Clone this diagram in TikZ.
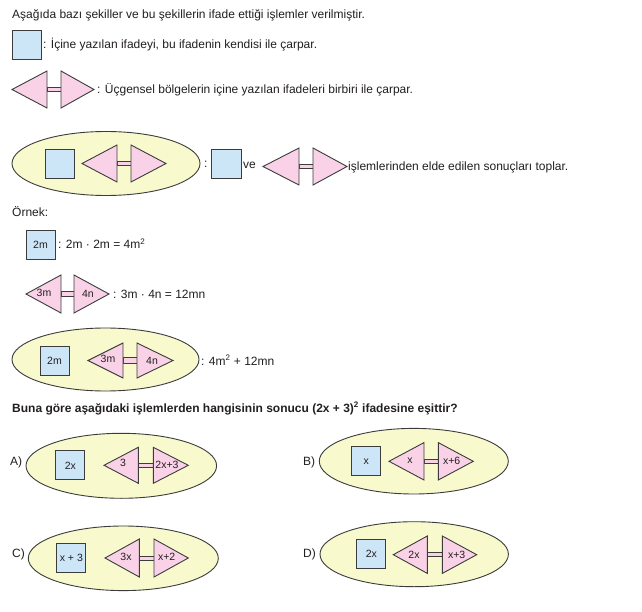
\documentclass[tikz,border=0pt]{standalone}
\usepackage{fontspec}
\setmainfont{Liberation Sans}
\usetikzlibrary{shapes.geometric}
\definecolor{sqblue}{HTML}{CCE6F8}
\definecolor{trpink}{HTML}{F9D2E7}
\definecolor{elyel}{HTML}{F8F9CC}
\definecolor{edgec}{HTML}{3C3C3C}
\definecolor{txt}{HTML}{231F20}
% #1 left tip x, #2 left vertical x, #3 right vertical x, #4 right tip x,
% #5 centre y, #6 half height, #7 half height of the bar
\newcommand{\hshape}[7]{%
  \filldraw[tri] (#2,#5-#7) rectangle (#3,#5+#7);
  \filldraw[tri] (#1,#5) -- (#2,#5-#6) -- (#2,#5+#6) -- cycle;
  \filldraw[tri] (#4,#5) -- (#3,#5-#6) -- (#3,#5+#6) -- cycle;
}
\begin{document}
\begin{tikzpicture}[x=1pt,y=-1pt,
  every node/.style={inner sep=0pt, text=txt},
  txtnode/.style={anchor=base west, font=\fontsize{12}{14}\selectfont},
  lbl/.style={font=\fontsize{10.5}{12}\selectfont},
  sqbox/.style={draw=edgec, fill=sqblue, line width=0.9pt, minimum width=29pt, minimum height=29pt, font=\fontsize{10.5}{12}\selectfont},
  ell/.style={ellipse, draw=edgec, fill=elyel, line width=0.9pt},
  tri/.style={draw=edgec, fill=trpink, line width=0.9pt, line join=miter},
]
\fill[white] (0,0) rectangle (642,612);
\useasboundingbox (0,0) rectangle (642,612);

% ---- legend ----
\node[txtnode] (intro) at (12,19) {Aşağıda bazı şekiller ve bu şekillerin ifade ettiği işlemler verilmiştir.};
\node[sqbox] (legSq) at (26.5,44.5) {};
\node[txtnode] (legSqT) at (43,49) {: İçine yazılan ifadeyi, bu ifadenin kendisi ile çarpar.};
\hshape{12}{47}{61}{94}{89.5}{18.5}{2.4}
\node[txtnode] (legHT) at (97,94) {: Üçgensel bölgelerin içine yazılan ifadeleri birbiri ile çarpar.};

\node[ell, minimum width=188pt, minimum height=64pt] (eTop) at (106,163.5) {};
\node[sqbox] (eTopSq) at (59.5,163.5) {};
\hshape{82}{117}{131}{166}{163.5}{18.5}{2.3}
\node[txtnode] (colon) at (204,168) {:};
\node[sqbox, minimum width=30pt] (sq2) at (226,163.5) {};
\node[txtnode] (ve) at (243,168.5) {ve};
\hshape{263}{299}{313}{347}{166.5}{18.5}{2}
\node[txtnode] (topl) at (348,170.5) {işlemlerinden elde edilen sonuçları toplar.};

% ---- example ----
\node[txtnode] (ornek) at (12,217) {Örnek:};
\node[sqbox] (exSq) at (40.5,244.5) {2m};
\node[txtnode] (exSqT) at (58,249) {: 2m · 2m = 4m\textsuperscript{2}};
\hshape{26}{61}{74}{109}{294}{19}{2.5}
\node[lbl] (ex3m) at (44,292.5) {3m};
\node[lbl] (ex4n) at (88,294) {4n};
\node[txtnode] (exHT) at (113,298) {: 3m · 4n = 12mn};

\node[ell, minimum width=187pt, minimum height=63pt] (eEx) at (105.5,359.5) {};
\node[sqbox] (eExSq) at (54.5,360.5) {2m};
\hshape{88}{123}{137}{173}{360.5}{17.5}{3}
\node[lbl] (eEx3m) at (108,359) {3m};
\node[lbl] (eEx4n) at (152,361) {4n};
\node[txtnode] (eExT) at (201,365) {: 4m\textsuperscript{2} + 12mn};

% ---- question ----
\node[txtnode, font=\bfseries\fontsize{12}{14}\selectfont] (quest) at (12,412) {Buna göre aşağıdaki işlemlerden hangisinin sonucu (2x + 3)\textsuperscript{2} ifadesine eşittir?};

% A
\node[txtnode] (optA) at (10,465) {A)};
\node[ell, minimum width=190.6pt, minimum height=65pt] (eA) at (121.3,465.8) {};
\node[sqbox] (sqA) at (70.35,465.35) {2x};
\hshape{104}{138.3}{153.3}{188.3}{465.3}{18}{2.2}
\node[lbl] (aL) at (123,463) {3};
\node[lbl] (aR) at (167,465) {2x+3};

% B
\node[txtnode] (optB) at (303,465) {B)};
\node[ell, minimum width=189pt, minimum height=65.6pt] (eB) at (413.8,461.2) {};
\node[sqbox] (sqB) at (366.35,461.35) {x};
\hshape{389}{424}{438.3}{473.3}{461.3}{18.7}{2}
\node[lbl] (bL) at (410,461) {x};
\node[lbl] (bR) at (451.7,461) {x+6};

% C
\node[txtnode] (optC) at (12,557) {C)};
\node[ell, minimum width=190pt, minimum height=64.6pt] (eC) at (123.3,558.3) {};
\node[sqbox] (sqC) at (71.35,558) {x + 3};
\hshape{105}{139.3}{154}{188.3}{558}{19}{2}
\node[lbl] (cL) at (126,557) {3x};
\node[lbl] (cR) at (166.7,557) {x+2};

% D
\node[txtnode] (optD) at (303,557) {D)};
\node[ell, minimum width=188.4pt, minimum height=65pt] (eD) at (414.2,554.2) {};
\node[sqbox] (sqD) at (371.35,553.8) {2x};
\hshape{393.3}{427.3}{442.3}{476.7}{554.7}{18.7}{1.8}
\node[lbl] (dL) at (414,555) {2x};
\node[lbl] (dR) at (456.7,555) {x+3};
\end{tikzpicture}
\end{document}
